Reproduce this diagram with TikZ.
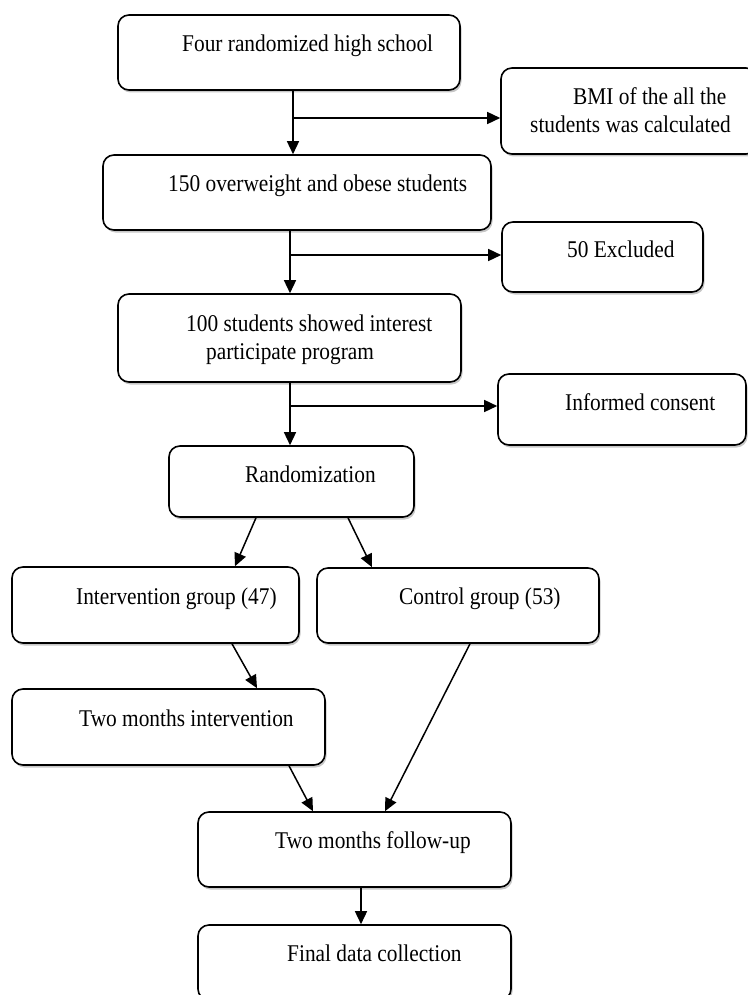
\documentclass[tikz,border=0pt]{standalone}
\usepackage{fontspec}
\setmainfont{Liberation Serif}[FakeStretch=0.89]
\usetikzlibrary{arrows.meta,shadows}
\tikzset{
  box/.style={draw=black, line width=1.6pt, rounded corners=11pt, fill=white,
    drop shadow={shadow xshift=1.5pt, shadow yshift=-2.5pt, fill=black, opacity=0.22}},
  txt/.style={anchor=base west, inner sep=0pt, font=\fontsize{24}{28}\selectfont},
  arr/.style={line width=1.5pt, -{Triangle[length=13pt,width=12pt]}},
  ln/.style={line width=1.5pt}
}
\begin{document}
\begin{tikzpicture}[x=1pt,y=-1pt]
\useasboundingbox (0,0) rectangle (747,995);
% boxes
\node[box, minimum width=342pt, minimum height=75pt] (b1) at (289,52.5) {};
\node[box, minimum width=256pt, minimum height=86pt] (bmi) at (629,111) {};
\node[box, minimum width=388pt, minimum height=75pt] (b2) at (297,192.5) {};
\node[box, minimum width=201pt, minimum height=70pt] (exc) at (602.5,257) {};
\node[box, minimum width=343pt, minimum height=88pt] (b3) at (289.5,338) {};
\node[box, minimum width=248pt, minimum height=71pt] (cons) at (622,409.5) {};
\node[box, minimum width=245pt, minimum height=71pt] (rnd) at (291.5,481.5) {};
\node[box, minimum width=287pt, minimum height=76pt] (ig) at (155.5,605) {};
\node[box, minimum width=282pt, minimum height=75pt] (cg) at (458,605.5) {};
\node[box, minimum width=313pt, minimum height=76pt] (tmi) at (168.5,727) {};
\node[box, minimum width=313pt, minimum height=75pt] (fu) at (354.5,849.5) {};
\node[box, minimum width=313pt, minimum height=75pt] (fin) at (354.5,962.5) {};
% texts
\node[txt] (t1) at (182,52) {Four randomized high school};
\node[txt] (tbmi1) at (573,105) {BMI of the all the};
\node[txt] (tbmi2) at (530,132.5) {students was calculated};
\node[txt] (t2) at (168,192) {150 overweight and obese students};
\node[txt] (texc) at (567,257) {50 Excluded};
\node[txt] (t3a) at (186,331) {100 students showed interest};
\node[txt] (t3b) at (206,359) {participate program};
\node[txt] (tcons) at (565,410) {Informed consent};
\node[txt] (trnd) at (245,482) {Randomization};
\node[txt] (tig) at (76,604) {Intervention group (47)};
\node[txt] (tcg) at (399,604) {Control group (53)};
\node[txt] (ttmi) at (79,726) {Two months intervention};
\node[txt] (tfu) at (275,848) {Two months follow-up};
\node[txt] (tfin) at (287,961) {Final data collection};
% helper coordinates
\coordinate (j1) at (293,118);
\coordinate (j2) at (290,255);
\coordinate (j3) at (290,406);
\coordinate (xa) at (256,0);
\coordinate (xb) at (235,0);
\coordinate (xc) at (348,0);
\coordinate (xd) at (372,0);
\coordinate (xe) at (232,0);
\coordinate (xf) at (257,0);
\coordinate (xg) at (289,0);
\coordinate (xh) at (313,0);
\coordinate (xi) at (470,0);
\coordinate (xj) at (385,0);
\coordinate (xk) at (361,0);
% connectors
\draw[arr] (j1 |- b1.south) -- (j1 |- b2.north);
\draw[arr] (j1) -- (j1 -| bmi.west);
\draw[arr] (j2 |- b2.south) -- (j2 |- b3.north);
\draw[arr] (j2) -- (j2 -| exc.west);
\draw[arr] (j3 |- b3.south) -- (j3 |- rnd.north);
\draw[arr] (j3) -- (j3 -| cons.west);
\draw[arr] (xa |- rnd.south) -- (xb |- ig.north);
\draw[arr] (xc |- rnd.south) -- (xd |- cg.north);
\draw[arr] (xe |- ig.south) -- (xf |- tmi.north);
\draw[arr] (xg |- tmi.south) -- (xh |- fu.north);
\draw[arr] (xi |- cg.south) -- (xj |- fu.north);
\draw[arr] (xk |- fu.south) -- (xk |- fin.north);
\end{tikzpicture}
\end{document}
